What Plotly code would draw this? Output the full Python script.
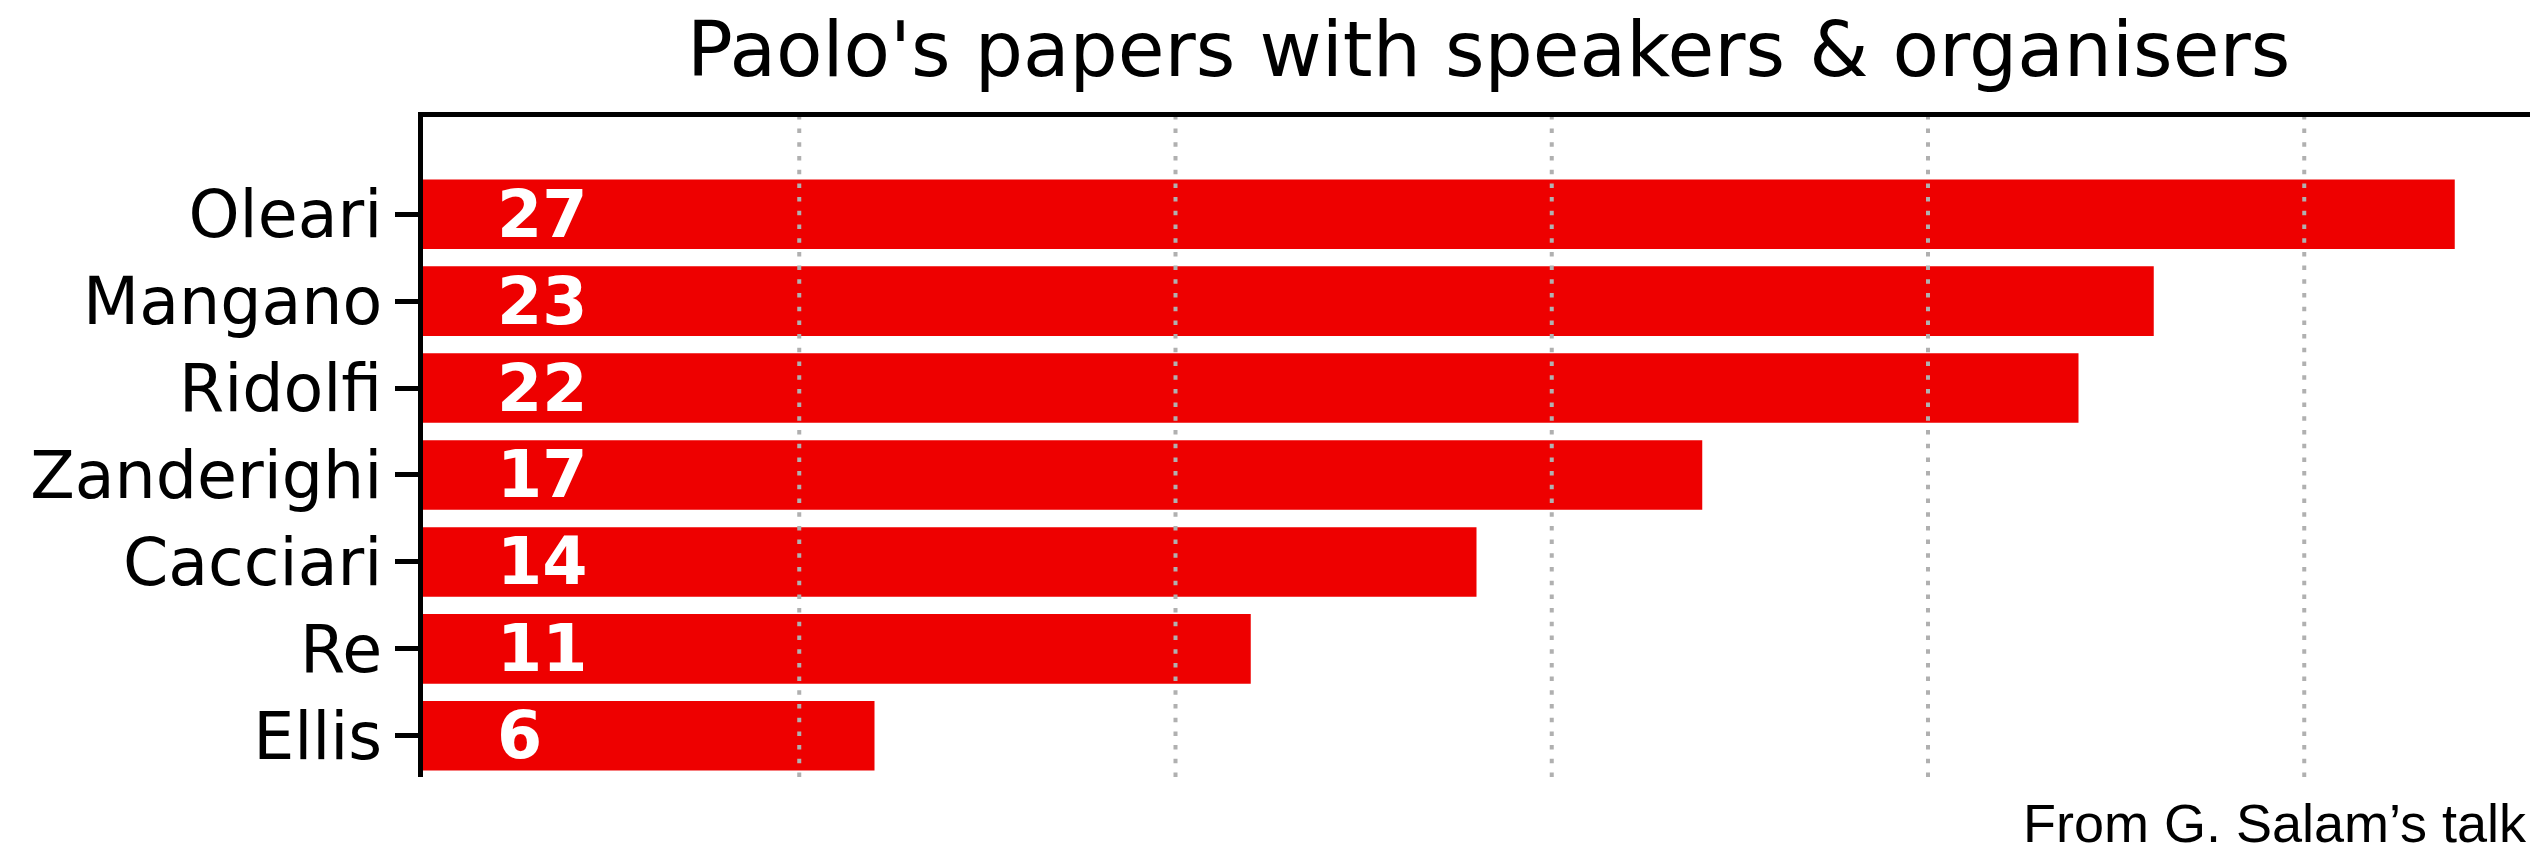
import plotly.graph_objects as go

# Co-author counts, listed bottom to top as drawn on the category axis
names = ["Ellis", "Re", "Cacciari", "Zanderighi", "Ridolfi", "Mangano", "Oleari"]
papers = [6, 11, 14, 17, 22, 23, 27]
grid_ticks = [5, 10, 15, 20, 25]

title_text = "Paolo's papers with speakers &amp; organisers"
credit_text = "From G. Salam\u2019s talk"

W, H = 2530, 853
BAR_RED = "#ee0000"
FONT = "DejaVu Sans"

fig = go.Figure()
fig.add_trace(go.Bar(
    x=papers,
    y=names,
    orientation="h",
    width=0.8,
    marker=dict(color=BAR_RED, line=dict(width=0)),
    hoverinfo="skip",
))

# value labels, drawn inside each bar near its left end
annotations = []
for n, v in zip(names, papers):
    annotations.append(dict(
        x=1, y=n, xref="x", yref="y",
        text=str(v), showarrow=False,
        xanchor="left", yanchor="middle", xshift=-3,
        font=dict(family=FONT, size=65, color="white", weight="bold"),
    ))

annotations.append(dict(
    x=0.5059, y=1.1024, xref="paper", yref="paper",
    text=title_text, showarrow=False,
    xanchor="center", yanchor="middle",
    font=dict(family=FONT, size=76, color="black"),
))
annotations.append(dict(
    x=1, y=-0.0788, xref="paper", yref="paper",
    text=credit_text, showarrow=False,
    xanchor="right", yanchor="middle", xshift=-2, yshift=6, borderpad=0,
    font=dict(family="Liberation Sans", size=54, color="black"),
))

# dotted vertical grid drawn over the bars
shapes = []
for g in grid_ticks:
    shapes.append(dict(
        type="line", xref="x", yref="paper",
        x0=g, x1=g, y0=0, y1=1, layer="above",
        line=dict(color="#b0b0b0", width=4, dash="4.5px,9.2px"),
    ))

fig.update_layout(
    width=W, height=H,
    margin=dict(l=423, r=0, t=117, b=76, pad=0),
    paper_bgcolor="white",
    plot_bgcolor="white",
    showlegend=False,
    annotations=annotations,
    shapes=shapes,
    bargap=0.2,
)

fig.update_xaxes(
    range=[0, 28.0],
    side="top",
    showline=True, linecolor="black", linewidth=4.5,
    showgrid=False, zeroline=False,
    showticklabels=False, ticks="",
)

fig.update_yaxes(
    type="category",
    categoryorder="array", categoryarray=names,
    range=[-0.474, 7.118],
    showline=True, linecolor="black", linewidth=4.5,
    showgrid=False, zeroline=False,
    ticks="outside", ticklen=23, tickwidth=5, tickcolor="black",
    tickfont=dict(family=FONT, size=65, color="black"),
)

fig.write_html("out.html")
